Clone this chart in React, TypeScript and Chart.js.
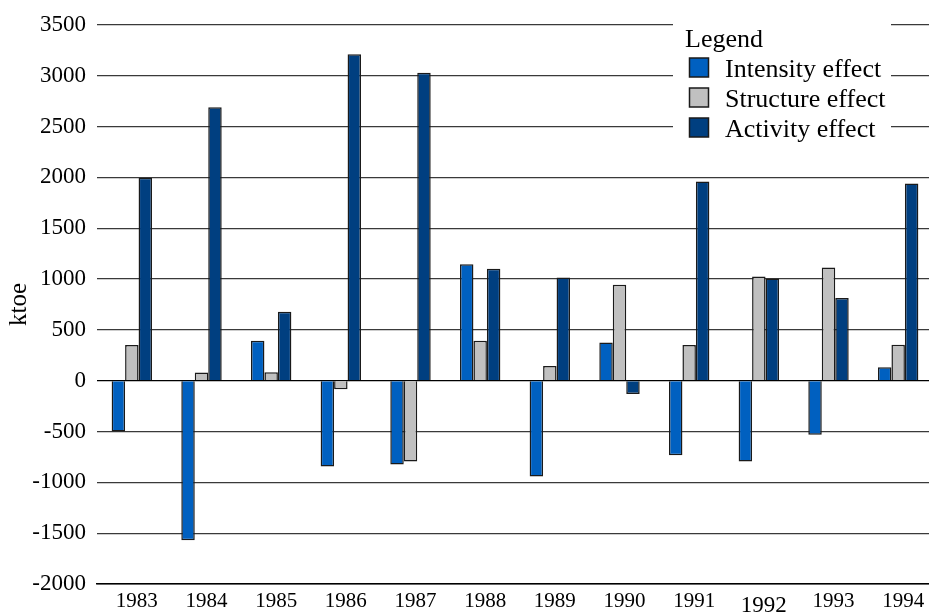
import React, { useEffect, useRef } from "react";
import { Chart, registerables } from "chart.js";

Chart.register(...registerables);

const years = ["1983", "1984", "1985", "1986", "1987", "1988", "1989", "1990", "1991", "1992", "1993", "1994"];
const intensityEffect = [-500, -1570, 393, -845, -825, 1146, -943, 376, -734, -796, -533, 131];
const structureEffect = [350, 80, 82, -85, -796, 393, 144, 943, 350, 1025, 1113, 354];
const activityEffect = [1995, 2690, 678, 3210, 3028, 1100, 1015, -131, 1958, 1005, 812, 1938];

const yMin = -2000;
const yMax = 3500;
const yStep = 500;

const seriesNames = ["Intensity effect", "Structure effect", "Activity effect"];
const seriesColors = ["#0060c0", "#c0c0c0", "#003f80"];

const SERIF = "'Liberation Serif', 'Times New Roman', serif";

const boxLegend = {
  id: "boxLegend",
  afterDraw(chart: any) {
    const ctx = chart.ctx as CanvasRenderingContext2D;
    ctx.save();
    ctx.fillStyle = "#ffffff";
    ctx.fillRect(673, 18, 218, 124);
    ctx.font = `26px ${SERIF}`;
    ctx.textAlign = "left";
    ctx.textBaseline = "alphabetic";
    ctx.fillStyle = "#000";
    ctx.fillText("Legend", 685, 47);
    chart.data.datasets.forEach((ds: any, i: number) => {
      const base = 77 + 30 * i;
      ctx.fillStyle = ds.backgroundColor;
      ctx.fillRect(689.5, base - 19, 19, 19);
      ctx.strokeStyle = "#1a1a1a";
      ctx.lineWidth = 1.5;
      ctx.strokeRect(689.5, base - 19, 19, 19);
      ctx.fillStyle = "#000";
      ctx.fillText(ds.label, 725, base);
    });
    ctx.restore();
  },
};

export default function App() {
  const ref = useRef<HTMLCanvasElement>(null);

  useEffect(() => {
    if (!ref.current) return;
    const values = [intensityEffect, structureEffect, activityEffect];
    const chart = new Chart(ref.current, {
      type: "bar",
      data: {
        labels: years,
        datasets: values.map((v, i) => ({
          label: seriesNames[i],
          data: v,
          backgroundColor: seriesColors[i],
          borderColor: "#1a1a1a",
          borderWidth: 1.5,
          categoryPercentage: 0.58,
          barPercentage: 1,
        })),
      },
      options: {
        responsive: false,
        animation: false,
        devicePixelRatio: 1,
        layout: { padding: { top: 24, left: 0, right: 0, bottom: 0 } },
        plugins: {
          legend: { display: false },
          tooltip: { enabled: false },
        },
        scales: {
          x: {
            grid: { display: false, drawTicks: false },
            border: { display: true, color: "#000", width: 1.5 },
            ticks: {
              color: "#000",
              padding: 5,
              labelOffset: 5,
              maxRotation: 0,
              autoSkip: false,
              font: (c: any) =>
                c.index === 9
                  ? { family: SERIF, size: 23, lineHeight: 1.44 }
                  : { family: SERIF, size: 21, lineHeight: 1.2 },
            },
            afterFit: (s: any) => {
              s.height = 28;
            },
          },
          y: {
            min: yMin,
            max: yMax,
            ticks: {
              stepSize: yStep,
              color: "#000",
              padding: 11,
              font: { family: SERIF, size: 23 },
              callback: (v: any) => String(v),
            },
            grid: {
              drawTicks: false,
              color: (c: any) => (c.tick && c.tick.value === 0 ? "#000" : "#3a3a3a"),
              lineWidth: 1.2,
            },
            border: { display: false },
            title: {
              display: true,
              text: "ktoe",
              color: "#000",
              font: { family: SERIF, size: 25 },
              padding: { top: 4, bottom: 4 },
            },
            afterFit: (s: any) => {
              s.width = 97;
            },
          },
        },
      },
      plugins: [boxLegend],
    });
    return () => chart.destroy();
  }, []);

  return (
    <div
      style={{
        position: "absolute",
        left: 0,
        top: 0,
        width: 929,
        height: 612,
        overflow: "hidden",
        background: "#fff",
      }}
    >
      <canvas ref={ref} width={933} height={612} style={{ display: "block" }} />
    </div>
  );
}
